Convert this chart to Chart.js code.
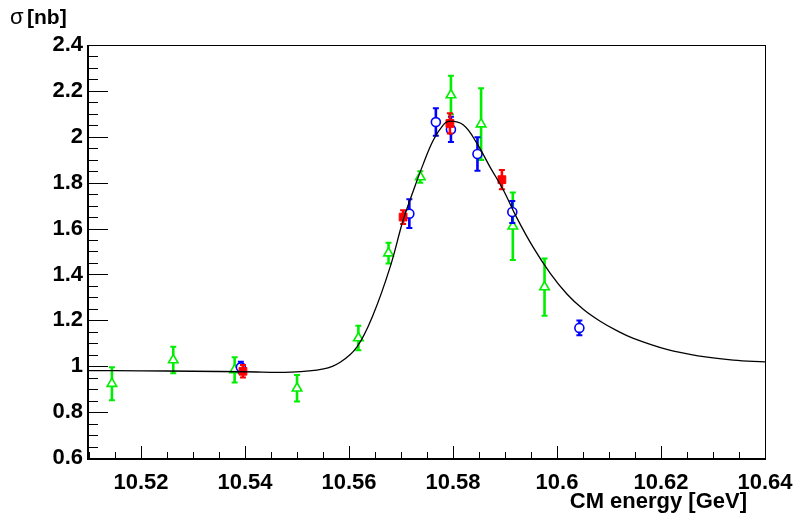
<!DOCTYPE html>
<html>
<head>
<meta charset="utf-8">
<script src="https://cdn.jsdelivr.net/npm/chart.js@4.4.0/dist/chart.umd.min.js"></script>
<style>
  html, body { margin: 0; padding: 0; background: #ffffff; }
  #wrap { width: 795px; height: 517px; }
</style>
</head>
<body>
<div id="wrap"><canvas id="c" width="795" height="517"></canvas></div>
<script>
// ---- data ----
const xTicks = [10.52, 10.54, 10.56, 10.58, 10.6, 10.62, 10.64];
const yTicks = [0.6, 0.8, 1.0, 1.2, 1.4, 1.6, 1.8, 2.0, 2.2, 2.4];

const greenX = [10.5144, 10.5262, 10.5380, 10.5500, 10.5618, 10.5676, 10.5737, 10.5796, 10.5854, 10.5915, 10.5976];
const greenY = [0.924, 1.027, 0.984, 0.904, 1.123, 1.493, 1.825, 2.182, 2.055, 1.610, 1.345];
const greenErr = [0.072, 0.058, 0.055, 0.058, 0.053, 0.045, 0.025, 0.084, 0.156, 0.147, 0.125];

const blueX = [10.5392, 10.5716, 10.5767, 10.5796, 10.5847, 10.5914, 10.6043];
const blueY = [0.995, 1.665, 2.064, 2.032, 1.925, 1.672, 1.167];
const blueErr = [0.025, 0.063, 0.060, 0.055, 0.073, 0.048, 0.032];

const redX = [10.5396, 10.5704, 10.5794, 10.5894];
const redY = [0.978, 1.650, 2.058, 1.813];
const redErr = [0.027, 0.030, 0.044, 0.042];

const fitX = [10.5098, 10.520, 10.530, 10.540, 10.5487, 10.5551, 10.5583, 10.5615, 10.5647, 10.5679,
              10.5704, 10.5724, 10.5743, 10.5762, 10.5781, 10.5794, 10.5820, 10.5846, 10.5871, 10.5897,
              10.5922, 10.5954, 10.5987, 10.6019, 10.6051, 10.6083, 10.6115, 10.6147, 10.6211, 10.6275, 10.6339, 10.6400];
const fitY = [0.981, 0.980, 0.978, 0.976, 0.974, 0.988, 1.017, 1.083, 1.228, 1.432,
              1.636, 1.767, 1.883, 1.985, 2.051, 2.068, 2.051, 1.971, 1.869, 1.767,
              1.650, 1.519, 1.405, 1.315, 1.247, 1.196, 1.155, 1.121, 1.073, 1.044, 1.027, 1.019];

const xMin = 10.5098, xMax = 10.64, yMin = 0.6, yMax = 2.4;

function pts(xs, ys) { return xs.map((x, i) => ({ x: x, y: ys[i] })); }

const FONT = '"Liberation Sans", Arial, Helvetica, sans-serif';

const errorBarPlugin = {
  id: 'errorBars',
  beforeDatasetDraw(chart, args) {
    const ds = chart.data.datasets[args.index];
    if (!ds.errors) return;
    const xs = chart.scales.x, ys = chart.scales.y;
    const ctx = chart.ctx;
    ctx.save();
    ctx.strokeStyle = ds.borderColor;
    ds.data.forEach((p, i) => {
      const e = ds.errors[i];
      const px = xs.getPixelForValue(p.x);
      const top = ys.getPixelForValue(p.y + e);
      const bot = ys.getPixelForValue(p.y - e);
      ctx.lineWidth = 2.6;
      ctx.beginPath(); ctx.moveTo(px, top); ctx.lineTo(px, bot); ctx.stroke();
      ctx.lineWidth = 2;
      ctx.beginPath();
      ctx.moveTo(px - 3, top); ctx.lineTo(px + 3, top);
      ctx.moveTo(px - 3, bot); ctx.lineTo(px + 3, bot);
      ctx.stroke();
    });
    ctx.restore();
  }
};

const framePlugin = {
  id: 'rootFrame',
  afterDraw(chart) {
    const ctx = chart.ctx, a = chart.chartArea;
    const xs = chart.scales.x, ys = chart.scales.y;
    ctx.save();
    ctx.strokeStyle = '#000';
    // frame
    ctx.lineWidth = 1;
    ctx.strokeRect(a.left + 0.5, a.top + 0.5, a.right - a.left, a.bottom - a.top);
    ctx.lineWidth = 2;
    ctx.beginPath();
    ctx.moveTo(a.left, a.top); ctx.lineTo(a.left, a.bottom + 1); ctx.lineTo(a.right + 1, a.bottom + 1);
    ctx.stroke();
    ctx.lineWidth = 1;
    // y ticks (inside)
    for (let v = yMin; v <= yMax + 1e-9; v += 0.05) {
      const py = Math.round(ys.getPixelForValue(v)) + 0.5;
      const major = Math.abs(v / 0.2 - Math.round(v / 0.2)) < 1e-6;
      ctx.beginPath(); ctx.moveTo(a.left, py); ctx.lineTo(a.left + (major ? 20 : 10), py); ctx.stroke();
    }
    // x ticks (inside)
    for (let v = 10.51; v <= xMax + 1e-9; v += 0.005) {
      if (v < xMin) continue;
      const px = Math.round(xs.getPixelForValue(v)) + 0.5;
      const major = Math.abs(v / 0.02 - Math.round(v / 0.02)) < 1e-6;
      ctx.beginPath(); ctx.moveTo(px, a.bottom); ctx.lineTo(px, a.bottom - (major ? 12 : 6)); ctx.stroke();
    }
    // axis titles
    ctx.fillStyle = '#000';
    ctx.textBaseline = 'alphabetic';
    ctx.textAlign = 'right';
    ctx.font = 'bold 22px ' + FONT;
    ctx.fillText('CM energy [GeV]', 747, 508);
    ctx.textAlign = 'left';
    ctx.font = '22px ' + FONT;
    ctx.fillText('σ', 10, 24);
    ctx.font = 'bold 21px ' + FONT;
    ctx.fillText('[nb]', 27, 24);
    ctx.restore();
  }
};

new Chart(document.getElementById('c'), {
  type: 'scatter',
  data: {
    datasets: [
      {
        label: 'fit', data: pts(fitX, fitY), showLine: true, borderColor: '#000000',
        borderWidth: 1.3, pointRadius: 0, tension: 0.4, fill: false, order: 0
      },
      {
        label: 'red', data: pts(redX, redY), errors: redErr, pointStyle: 'rect', pointRadius: 5.5,
        backgroundColor: '#ff0000', borderColor: '#ff0000', borderWidth: 1, order: 1
      },
      {
        label: 'blue', data: pts(blueX, blueY), errors: blueErr, pointStyle: 'circle', pointRadius: 4.5,
        backgroundColor: '#ffffff', borderColor: '#0000ff', borderWidth: 1.6, order: 2
      },
      {
        label: 'green', data: pts(greenX, greenY), errors: greenErr, pointStyle: 'triangle', pointRadius: 5.5,
        backgroundColor: '#ffffff', borderColor: '#00ee00', borderWidth: 1.6, order: 3
      }
    ]
  },
  options: {
    responsive: false,
    animation: false,
    devicePixelRatio: 1,
    layout: { padding: { left: 0, top: 45, right: 30, bottom: 0 } },
    plugins: { legend: { display: false }, tooltip: { enabled: false }, title: { display: false } },
    elements: { point: { hoverRadius: 5 } },
    scales: {
      x: {
        type: 'linear', min: xMin, max: xMax,
        afterBuildTicks(s) { s.ticks = xTicks.map(v => ({ value: v })); },
        afterFit(s) { s.height = 59; s.paddingLeft = 0; s.paddingRight = 0; },
        grid: { display: false, drawTicks: false },
        border: { display: false },
        ticks: {
          color: '#000', padding: 12, maxRotation: 0, autoSkip: false,
          font: { family: FONT, size: 22, weight: 'bold' },
          callback: v => String(parseFloat(Number(v).toFixed(2)))
        }
      },
      y: {
        type: 'linear', min: yMin, max: yMax,
        afterBuildTicks(s) { s.ticks = yTicks.map(v => ({ value: v })); },
        afterFit(s) { s.width = 88; s.paddingTop = 0; s.paddingBottom = 0; },
        grid: { display: false, drawTicks: false },
        border: { display: false },
        ticks: {
          color: '#000', padding: 5, autoSkip: false,
          font: { family: FONT, size: 22, weight: 'bold' },
          callback: v => String(parseFloat(Number(v).toFixed(1)))
        }
      }
    }
  },
  plugins: [errorBarPlugin, framePlugin]
});
</script>
</body>
</html>
